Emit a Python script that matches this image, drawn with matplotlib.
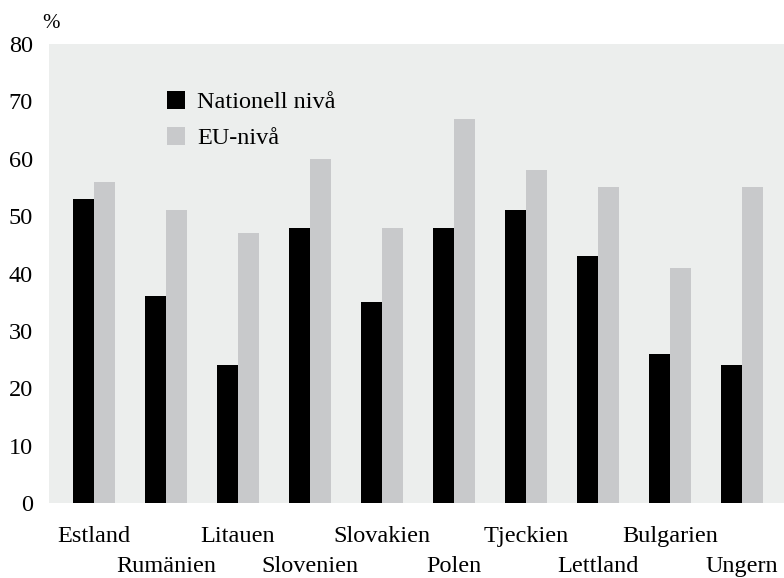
import numpy as np
import matplotlib
matplotlib.use("Agg")
import matplotlib.pyplot as plt

# Andel (%) per land och beslutsnivå
countries = ["Estland", "Rumänien", "Litauen", "Slovenien", "Slovakien",
             "Polen", "Tjeckien", "Lettland", "Bulgarien", "Ungern"]
national = [53, 36, 24, 48, 35, 48, 51, 43, 26, 24]
eu_level = [56, 51, 47, 60, 48, 67, 58, 55, 41, 55]
yticks = [0, 10, 20, 30, 40, 50, 60, 70, 80]

plt.rcParams["font.family"] = ["Liberation Serif", "DejaVu Serif"]

bg = "#eceeed"
grey = "#c8c9cb"
fs = 17.5

fig = plt.figure(figsize=(7.84, 5.78), dpi=100)
ax = fig.add_axes([49 / 784, 75 / 578, 735 / 784, 459 / 578])
ax.set_facecolor(bg)

x = np.arange(len(countries))
w = 0.29
b1 = ax.bar(x - w / 2, national, w, color="black", label="Nationell nivå")
b2 = ax.bar(x + w / 2, eu_level, w, color=grey, label="EU-nivå")

ax.set_xlim(-0.625, 9.58)
ax.set_ylim(0, 80)
ax.set_yticks(yticks)
ax.set_yticklabels([str(t) for t in yticks], fontsize=fs)
ax.set_xticks([])
ax.tick_params(axis="y", length=0, pad=11.5)
for s in ax.spines.values():
    s.set_visible(False)

# country names staggered on two rows
for i, name in enumerate(countries):
    off = 39 if i % 2 == 0 else 69
    ax.annotate(name, xy=(i, 0), xycoords=("data", "axes fraction"),
                xytext=(0, -off), textcoords="offset pixels",
                ha="center", va="baseline", fontsize=fs)

fig.text(51 / 784, 1 - 23 / 578, "%", ha="center", va="center", fontsize=15)

ax.legend(handles=[b1, b2], loc="upper left",
          bbox_to_anchor=(167 / 784, 1 - 91 / 578), bbox_transform=fig.transFigure,
          frameon=False, fontsize=fs, handlelength=0.75, handleheight=0.75,
          handletextpad=0.5, labelspacing=0.55, borderpad=0, borderaxespad=0)

fig.savefig("out.png", dpi=100, facecolor="white")
